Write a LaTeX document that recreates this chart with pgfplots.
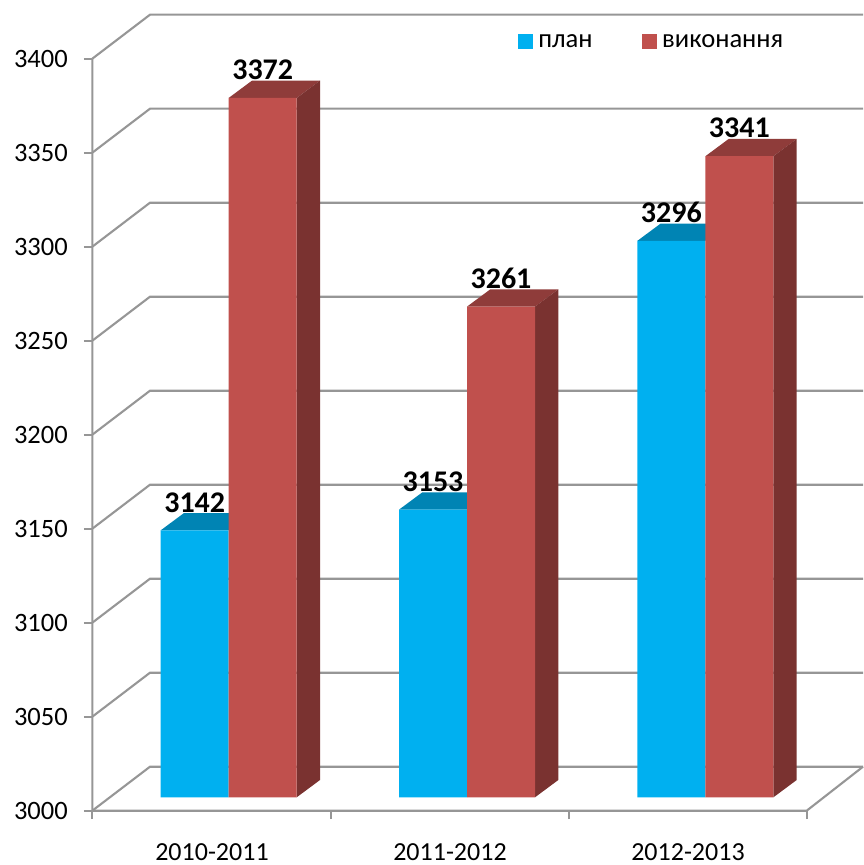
\documentclass[border=0pt]{standalone}
\usepackage{fontspec}
\setmainfont{Carlito}
\usepackage{pgfplots}
\pgfplotsset{compat=1.18}
\definecolor{gridc}{HTML}{969696}
\definecolor{planf}{HTML}{00B0F0}
\definecolor{plant}{HTML}{0084B4}
\definecolor{execf}{HTML}{C0504D}
\definecolor{exect}{HTML}{8F3C3A}
\definecolor{execs}{HTML}{7A3230}
\pgfplotsset{
  wall/.style={draw=gridc,line width=2.1pt,no markers,forget plot,line join=miter},
  face/.style={draw=none,no markers,forget plot},
  lab/.style={nodes near coords,
    every node near coord/.append style={font=\fontsize{30}{32}\selectfont\bfseries,text=black,anchor=center,yshift=28pt,inner sep=0pt},
    /pgf/number format/set thousands separator={},
    /pgf/number format/assume math mode=true},
}
\begin{document}
\begin{tikzpicture}[x=1pt,y=1pt]
\useasboundingbox (0,0) rectangle (863,865);
\begin{axis}[
  at={(92.3pt,54.3pt)},anchor=south west,
  x=1pt,y=1.88pt,
  xmin=92.3,xmax=863,ymin=3000,ymax=3424,
  clip=false,
  axis x line=bottom,axis y line=left,
  axis line style={draw=none,-},
  tick style={draw=gridc,line width=2.1pt},
  major tick length=8.5pt,
  tick align=outside,
  ytick={3000,3050,3100,3150,3200,3250,3300,3350,3400},
  yticklabel style={font=\fontsize{26.5}{30}\selectfont,xshift=-12.5pt,yshift=-0.5pt,/pgf/number format/set thousands separator={},/pgf/number format/assume math mode=true},
  xtick={92.3,330.7,569,806.7},
  xticklabels={},
  extra x ticks={212,450,688},
  extra x tick labels={2010-2011,2011-2012,2012-2013},
  extra x tick style={
    major tick length=0pt,
    tick style={draw=none},
    xticklabel style={font=\fontsize{26}{30}\selectfont,anchor=center,yshift=-41.5pt}},
]
\addplot[wall] coordinates {(92.3,3000)(150,3023.4)(863,3023.4)};
\addplot[wall] coordinates {(92.3,3050)(150,3073.4)(863,3073.4)};
\addplot[wall] coordinates {(92.3,3100)(150,3123.4)(863,3123.4)};
\addplot[wall] coordinates {(92.3,3150)(150,3173.4)(863,3173.4)};
\addplot[wall] coordinates {(92.3,3200)(150,3223.4)(863,3223.4)};
\addplot[wall] coordinates {(92.3,3250)(150,3273.4)(863,3273.4)};
\addplot[wall] coordinates {(92.3,3300)(150,3323.4)(863,3323.4)};
\addplot[wall] coordinates {(92.3,3350)(150,3373.4)(863,3373.4)};
\addplot[wall] coordinates {(92.3,3400)(150,3423.4)(863,3423.4)};
\addplot[wall] coordinates {(92.3,3400)(92.3,3000)(806.7,3000)(863,3023.4)};
\end{axis}
\begin{axis}[
  at={(92.3pt,67.7pt)},anchor=south west,
  x=1pt,y=1.88pt,
  xmin=92.3,xmax=863,ymin=3000,ymax=3420,
  clip=false,
  hide axis,
  legend columns=2,
  legend style={at={(0.5527,0.957)},anchor=west,draw=none,fill=none,inner sep=0pt,outer sep=0pt,
    font=\fontsize{26.6}{28}\selectfont,
    /tikz/every even column/.append style={column sep=47.5pt},
    /tikz/every odd column/.append style={column sep=3pt}},
  legend cell align=left,
]
% plan: top faces
\addplot[face,fill=plant] coordinates {(160.7,3142)(228.7,3142)(252,3151.2)(184,3151.2)} -- cycle;
\addplot[face,fill=plant] coordinates {(399,3153)(467,3153)(490.3,3162.2)(422.3,3162.2)} -- cycle;
\addplot[face,fill=plant] coordinates {(637.4,3296)(705.4,3296)(728.7,3305.2)(660.7,3305.2)} -- cycle;
% plan: front faces
\addplot[ybar,bar shift=0pt,bar width=68,fill=planf,draw=none,lab,
  legend image code/.code={\fill[planf] (0pt,-7.5pt) rectangle (15pt,7.5pt);}]
  coordinates {(194.7,3142)(433,3153)(671.4,3296)};
\addlegendentry{план}
% execution: top faces
\addplot[face,fill=exect] coordinates {(228.7,3372)(296.7,3372)(320,3381.2)(252,3381.2)} -- cycle;
\addplot[face,fill=exect] coordinates {(467,3261)(535,3261)(558.3,3270.2)(490.3,3270.2)} -- cycle;
\addplot[face,fill=exect] coordinates {(705.4,3341)(773.4,3341)(796.7,3350.2)(728.7,3350.2)} -- cycle;
% execution: side faces
\addplot[face,fill=execs] coordinates {(296.7,3000)(320,3009.2)(320,3381.2)(296.7,3372)} -- cycle;
\addplot[face,fill=execs] coordinates {(535,3000)(558.3,3009.2)(558.3,3270.2)(535,3261)} -- cycle;
\addplot[face,fill=execs] coordinates {(773.4,3000)(796.7,3009.2)(796.7,3350.2)(773.4,3341)} -- cycle;
% execution: front faces
\addplot[ybar,bar shift=0pt,bar width=68,fill=execf,draw=none,lab,
  legend image code/.code={\fill[execf] (0pt,-7.5pt) rectangle (15pt,7.5pt);}]
  coordinates {(262.7,3372)(501,3261)(739.4,3341)};
\addlegendentry{виконання}
\end{axis}
\end{tikzpicture}
\end{document}
